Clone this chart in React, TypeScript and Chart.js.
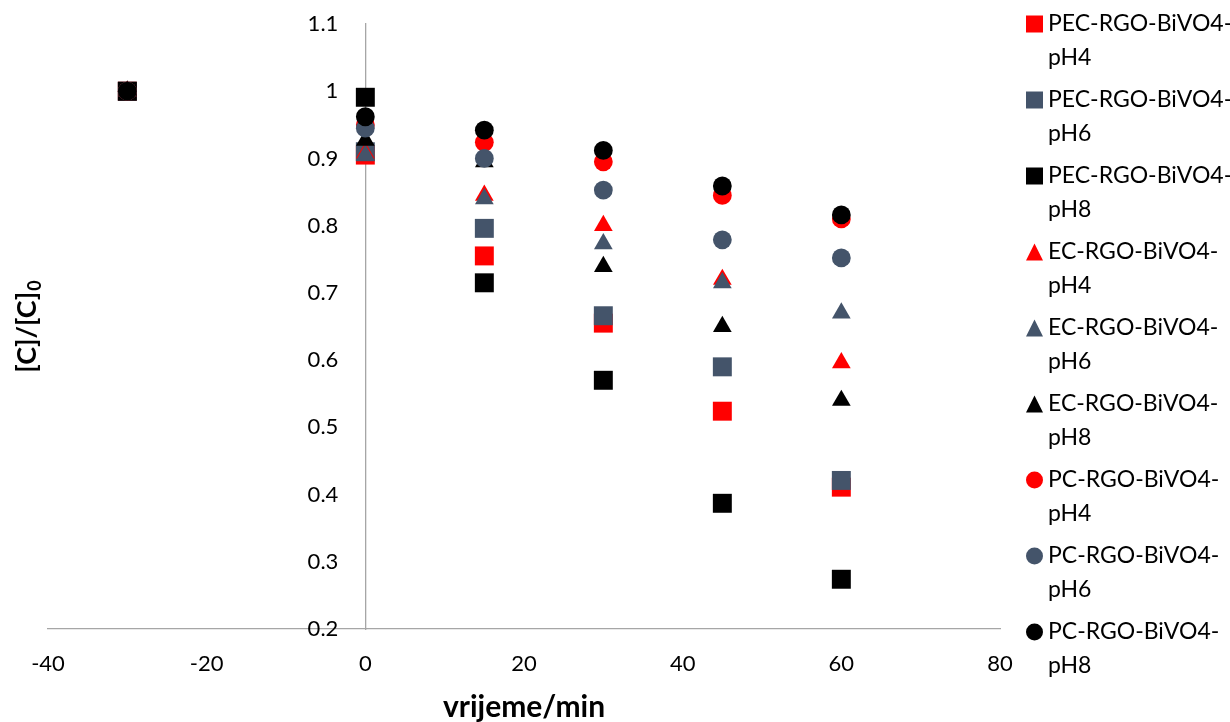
import React, { useEffect, useRef } from 'react';
import { Chart, registerables } from 'chart.js';

Chart.register(...registerables);

// ---- data ----
const times = [-30, 0, 15, 30, 45, 60];
const seriesNames = [
  'PEC-RGO-BiVO4-pH4',
  'PEC-RGO-BiVO4-pH6',
  'PEC-RGO-BiVO4-pH8',
  'EC-RGO-BiVO4-pH4',
  'EC-RGO-BiVO4-pH6',
  'EC-RGO-BiVO4-pH8',
  'PC-RGO-BiVO4-pH4',
  'PC-RGO-BiVO4-pH6',
  'PC-RGO-BiVO4-pH8',
];
const pecPH4 = [1, 0.905, 0.755, 0.655, 0.524, 0.411];
const pecPH6 = [1, 0.91, 0.796, 0.666, 0.59, 0.421];
const pecPH8 = [1, 0.991, 0.715, 0.57, 0.387, 0.274];
const ecPH4 = [1, 0.908, 0.845, 0.8, 0.72, 0.596];
const ecPH6 = [1, 0.905, 0.84, 0.773, 0.715, 0.67];
const ecPH8 = [1, 0.927, 0.895, 0.739, 0.65, 0.54];
const pcPH4 = [1, 0.95, 0.924, 0.895, 0.845, 0.81];
const pcPH6 = [1, 0.945, 0.9, 0.853, 0.779, 0.752];
const pcPH8 = [1, 0.962, 0.942, 0.912, 0.859, 0.816];
const seriesValues = [pecPH4, pecPH6, pecPH8, ecPH4, ecPH6, ecPH8, pcPH4, pcPH6, pcPH8];
const seriesColors = ['#FF0000', '#44546A', '#000000', '#FF0000', '#44546A', '#000000', '#FF0000', '#44546A', '#000000'];
const seriesShapes = ['rect', 'rect', 'rect', 'triangle', 'triangle', 'triangle', 'circle', 'circle', 'circle'];
const xTitle = 'vrijeme/min';
const yTitleMain = '[C]/[C]';
const yTitleSub = '0';

const FONT = 'Lato, "Open Sans", sans-serif';
const shapeRadius: Record<string, number> = { rect: 13.4, triangle: 10.8, circle: 9.4 };

function drawMarker(ctx: CanvasRenderingContext2D, shape: string, x: number, y: number, size: number, color: string) {
  ctx.fillStyle = color;
  ctx.beginPath();
  if (shape === 'rect') {
    ctx.rect(x - size / 2, y - size / 2, size, size);
  } else if (shape === 'circle') {
    ctx.arc(x, y, size / 2, 0, Math.PI * 2);
  } else {
    ctx.moveTo(x, y - size / 2);
    ctx.lineTo(x + size / 2, y + size / 2);
    ctx.lineTo(x - size / 2, y + size / 2);
    ctx.closePath();
  }
  ctx.fill();
}

const legendPlugin = {
  id: 'customLegend',
  afterDraw(chart: any) {
    const ctx: CanvasRenderingContext2D = chart.ctx;
    ctx.save();
    ctx.font = `23px ${FONT}`;
    ctx.textBaseline = 'middle';
    ctx.textAlign = 'left';
    chart.data.datasets.forEach((ds: any, i: number) => {
      const name: string = ds.label;
      const cut = name.lastIndexOf('-') + 1;
      const line1 = name.slice(0, cut);
      const line2 = name.slice(cut);
      const y = 24 + i * 76;
      drawMarker(ctx, seriesShapes[i], 1034.5, y, 17, seriesColors[i]);
      ctx.fillStyle = '#000';
      ctx.fillText(line1, 1048, y);
      ctx.fillText(line2, 1048, y + 34);
    });
    ctx.restore();
  },
};

// y tick labels drawn left of the crossing axis (at x = 0)
const yLabelsPlugin = {
  id: 'yLabels',
  beforeDatasetsDraw(chart: any) {
    const ctx: CanvasRenderingContext2D = chart.ctx;
    const xs = chart.scales.x;
    const ys = chart.scales.y;
    const axisX = xs.getPixelForValue(0);
    ctx.save();
    ctx.font = `22px ${FONT}`;
    ctx.fillStyle = '#000';
    ctx.textAlign = 'right';
    ctx.textBaseline = 'middle';
    ys.ticks.forEach((t: any) => {
      const label = String(Number(t.value.toFixed(1)));
      ctx.fillText(label, axisX - 27, ys.getPixelForValue(t.value));
    });
    ctx.restore();
  },
};

const yTitlePlugin = {
  id: 'yTitle',
  afterDraw(chart: any) {
    const ctx: CanvasRenderingContext2D = chart.ctx;
    const area = chart.chartArea;
    ctx.save();
    ctx.fillStyle = '#000';
    const mainFont = `bold 27px ${FONT}`;
    const subFont = `bold 18px ${FONT}`;
    ctx.font = mainFont;
    const w1 = ctx.measureText(yTitleMain).width;
    ctx.font = subFont;
    const w2 = ctx.measureText(yTitleSub).width;
    const total = w1 + w2 + 1;
    const cy = (area.top + area.bottom) / 2;
    ctx.translate(27, cy);
    ctx.rotate(-Math.PI / 2);
    ctx.textBaseline = 'middle';
    ctx.textAlign = 'left';
    ctx.font = mainFont;
    ctx.fillText(yTitleMain, -total / 2, 0);
    ctx.font = subFont;
    ctx.fillText(yTitleSub, -total / 2 + w1 + 1, 8);
    ctx.restore();
  },
};

export default function App() {
  const ref = useRef<HTMLCanvasElement | null>(null);
  useEffect(() => {
    if (!ref.current) return;
    const datasets = seriesNames.map((name, i) => ({
      label: name,
      data: times.map((t, j) => ({ x: t, y: seriesValues[i][j] })),
      pointStyle: seriesShapes[i] as any,
      pointRadius: shapeRadius[seriesShapes[i]],
      pointHoverRadius: shapeRadius[seriesShapes[i]],
      backgroundColor: seriesColors[i],
      borderColor: seriesColors[i],
      pointBorderWidth: 0,
      showLine: false,
      order: seriesNames.length - i,
    }));
    const tickFont = { family: FONT, size: 22 };
    const chart = new Chart(ref.current, {
      type: 'scatter',
      data: { datasets },
      options: {
        animation: false,
        responsive: false,
        maintainAspectRatio: false,
        layout: { padding: { left: 48, right: 230, top: 24, bottom: 0 } },
        plugins: {
          legend: { display: false },
          tooltip: { enabled: false },
        },
        scales: {
          x: {
            type: 'linear',
            position: 'bottom',
            min: -40,
            max: 80,
            ticks: { stepSize: 20, font: tickFont, color: '#000', padding: 22 },
            grid: { display: false, drawTicks: false },
            border: { display: true, color: '#A6A6A6', width: 1.3 },
            title: {
              display: true,
              text: xTitle,
              color: '#000',
              font: { family: FONT, size: 30, weight: 'bold', lineHeight: 1.0 },
              padding: { top: 0, bottom: 0 },
            },
            afterFit: (s: any) => {
              s.height = 93;
            },
          },
          y: {
            type: 'linear',
            position: { x: 0 } as any,
            min: 0.2,
            max: 1.1,
            ticks: { stepSize: 0.1, display: false },
            grid: { display: false, drawTicks: false },
            border: { display: true, color: '#A6A6A6', width: 1.3 },
          },
        },
      },
      plugins: [yLabelsPlugin, legendPlugin, yTitlePlugin],
    });
    return () => chart.destroy();
  }, []);
  return (
    <div style={{ position: 'absolute', left: 0, top: 0, width: 1230, height: 722, background: '#fff' }}>
      <canvas ref={ref} width={1230} height={722} style={{ display: 'block', width: 1230, height: 722 }} />
    </div>
  );
}
